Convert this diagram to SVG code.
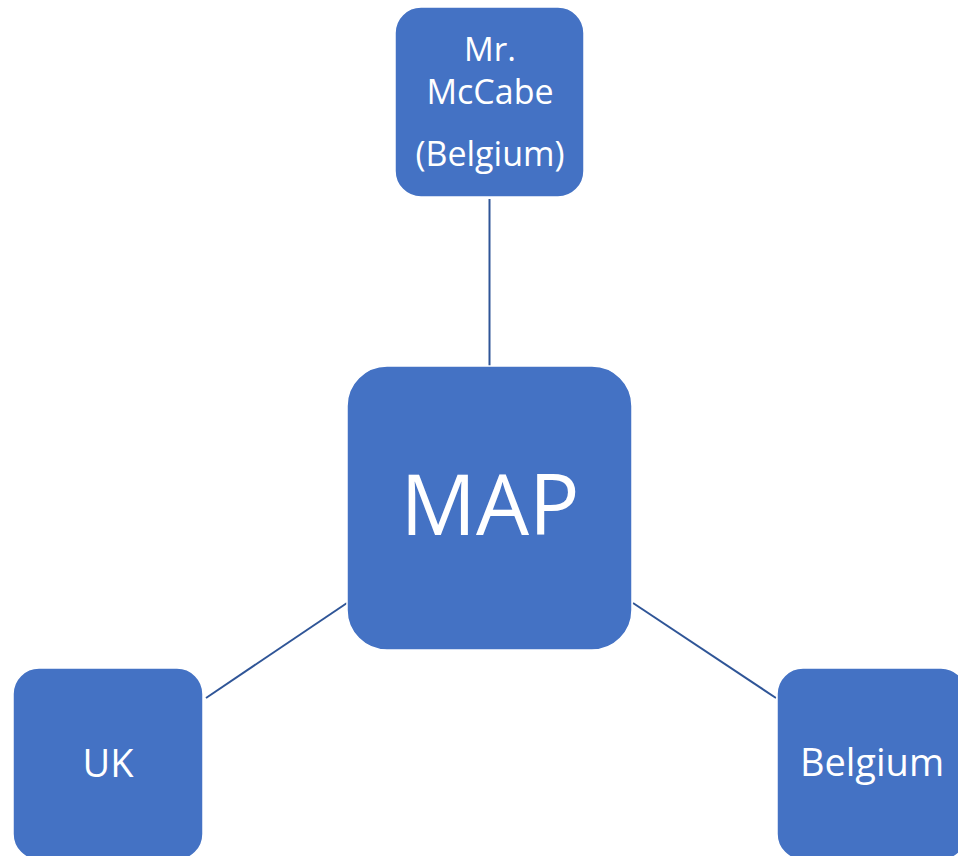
<svg xmlns="http://www.w3.org/2000/svg" width="958" height="856" viewBox="0 0 958 856">
<style>
.box{fill:#4472C4;stroke:#ffffff;stroke-width:1.5}
.t{fill:#ffffff;font-family:"Open Sans","Noto Sans","Liberation Sans",sans-serif;text-anchor:middle}
.c{stroke:#2F5597;stroke-width:2;fill:none}
</style>
<rect width="958" height="856" fill="#ffffff"/>
<g id="connectors">
<line class="c" x1="489.5" y1="199" x2="489.5" y2="366"/>
<line class="c" x1="206" y1="698" x2="347" y2="603"/>
<line class="c" x1="633" y1="603" x2="776" y2="698"/>
</g>
<g id="node-mccabe">
<rect class="box" x="395" y="7" width="189" height="190" rx="26"/>
<text class="t" x="490" y="61" font-size="33">Mr.</text>
<text class="t" x="490" y="104" font-size="34">McCabe</text>
<text class="t" x="490" y="166" font-size="34">(Belgium)</text>
</g>
<g id="node-map">
<rect class="box" x="347" y="366" width="285" height="284" rx="40"/>
<text class="t" x="490" y="535" font-size="84">MAP</text>
</g>
<g id="node-uk">
<rect class="box" x="13" y="668" width="190" height="192" rx="26"/>
<text class="t" x="108" y="777" font-size="38">UK</text>
</g>
<g id="node-belgium">
<rect class="box" x="777" y="668" width="190" height="192" rx="26"/>
<text class="t" x="872" y="776" font-size="38">Belgium</text>
</g>
</svg>
